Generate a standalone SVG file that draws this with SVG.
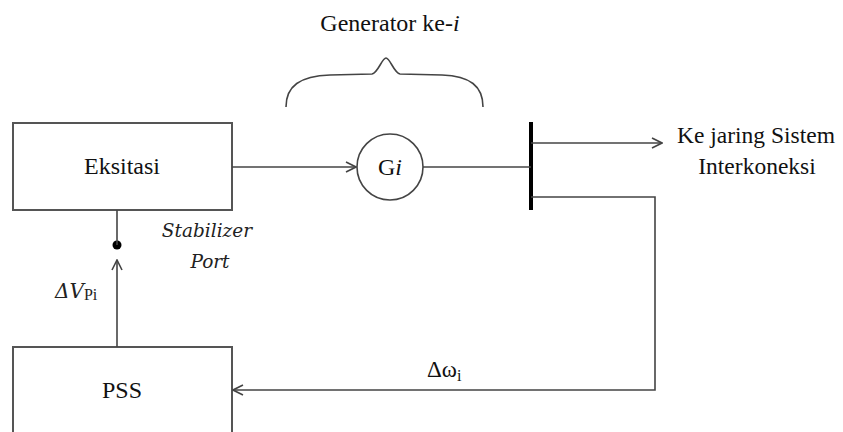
<svg xmlns="http://www.w3.org/2000/svg" width="843" height="432" viewBox="0 0 843 432">
<style>
.box{fill:#fff;stroke:#555;stroke-width:2}
.ln{fill:none;stroke:#444;stroke-width:1.6}
.t{font-family:"Liberation Serif","Times New Roman",serif;font-size:24px;fill:#111}
.it{font-family:"DejaVu Serif",serif;font-style:italic;font-size:18.5px;fill:#222}
</style>
<defs>
<marker id="ah" viewBox="0 0 12 12" refX="11" refY="6" markerWidth="12" markerHeight="12" markerUnits="userSpaceOnUse" orient="auto">
<path d="M1,1 L11,6 L1,11" fill="none" stroke="#444" stroke-width="1.6"/>
</marker>
</defs>
<rect width="843" height="432" fill="#fff"/>
<g id="brace">
<path class="ln" d="M286,107 C286,86 300,76 330,75 L372,74 C378,73 382,58 386,58 C390,58 394,73 400,74 L442,75 C470,76 483,86 483,107"/>
<text class="t" x="390" y="31" text-anchor="middle">Generator ke-<tspan font-style="italic">i</tspan></text>
</g>
<g id="eksitasi">
<rect class="box" x="13" y="123" width="219" height="87"/>
<text class="t" x="122" y="174" text-anchor="middle">Eksitasi</text>
</g>
<g id="pss">
<rect class="box" x="13" y="347" width="219" height="100"/>
<text class="t" x="122" y="398" text-anchor="middle">PSS</text>
</g>
<g id="generator">
<circle cx="390" cy="167" r="33" fill="#fff" stroke="#444" stroke-width="1.6"/>
<text class="t" x="390" y="175" text-anchor="middle">G<tspan font-style="italic">i</tspan></text>
</g>
<g id="bus">
<line x1="531" y1="122" x2="531" y2="210" stroke="#000" stroke-width="4"/>
</g>
<g id="port">
<circle cx="117" cy="245" r="4.5" fill="#000"/>
<text class="it" x="207" y="237" text-anchor="middle">Stabilizer</text>
<text class="it" x="210" y="268" text-anchor="middle">Port</text>
</g>
<g id="connectors">
<line class="ln" x1="232" y1="167" x2="356" y2="167" marker-end="url(#ah)"/>
<line class="ln" x1="423" y1="167" x2="531" y2="167"/>
<line class="ln" x1="531" y1="143" x2="662" y2="143" marker-end="url(#ah)"/>
<polyline class="ln" points="531,197 655,197 655,390 233,390" marker-end="url(#ah)"/>
<line class="ln" x1="117" y1="210" x2="117" y2="245"/>
<line class="ln" x1="117" y1="347" x2="117" y2="260" marker-end="url(#ah)"/>
</g>
<g id="labels">
<text class="t" x="677" y="143" style="font-size:23.5px">Ke jaring Sistem</text>
<text class="t" x="757" y="174" text-anchor="middle" style="font-size:23.5px">Interkoneksi</text>
<text class="t" x="427" y="377" style="font-size:23px">Δω<tspan font-size="16" dy="4">i</tspan></text>
<text x="55" y="298" style="font-family:'DejaVu Serif',serif;font-style:italic;font-size:20px;fill:#222">ΔV<tspan font-style="normal" font-family="Liberation Serif,serif" font-size="16" dy="2">Pi</tspan></text>
</g>
</svg>
